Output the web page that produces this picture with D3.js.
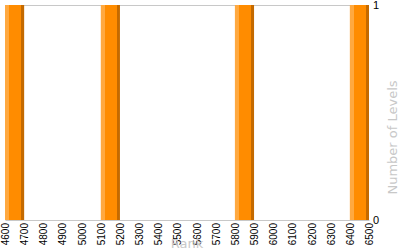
<!DOCTYPE html>
<meta charset="utf-8">
<script src="https://d3js.org/d3.v7.min.js"></script>
<style>
  body { margin: 0; background: #fff; }
</style>
<div id="chart"></div>
<script>

// histogram bins (rank, 100 wide) and how many levels fall in each
var binStarts = [4600, 5100, 5800, 6400];
var levelCounts = [1, 1, 1, 1];
var binWidth = 100;
var rankTicks = d3.range(4600, 6501, 100);
var countTicks = [0, 1];

var margin = {top: 5, right: 31, bottom: 30, left: 5},
    width = 400 - margin.left - margin.right,
    height = 250 - margin.top - margin.bottom;

var svg = d3.select("#chart")
  .append("svg")
    .attr("width", 400)
    .attr("height", 250)
    .style("font-family", "'DejaVu Sans', sans-serif");

var defs = svg.append("defs");
var grad = defs.append("linearGradient").attr("id", "barGrad");
grad.append("stop").attr("offset", "0%").attr("stop-color", "#ffa940");
grad.append("stop").attr("offset", "21%").attr("stop-color", "#ffa940");
grad.append("stop").attr("offset", "21%").attr("stop-color", "#ff8c00");
grad.append("stop").attr("offset", "84%").attr("stop-color", "#ff8c00");
grad.append("stop").attr("offset", "84%").attr("stop-color", "#c46a00");
grad.append("stop").attr("offset", "100%").attr("stop-color", "#c46a00");

var g = svg.append("g")
  .attr("transform", "translate(" + margin.left + "," + margin.top + ")");

var x = d3.scaleLinear()
  .domain([4600, 6500])
  .range([0, width]);

var y = d3.scaleLinear()
  .domain([0, 1])
  .range([height, 0]);

// frame lines
g.append("line")
  .attr("x1", 0).attr("x2", width)
  .attr("y1", 0.5).attr("y2", 0.5)
  .attr("stroke", "#c8c8c8");
g.append("line")
  .attr("x1", 0.5).attr("x2", 0.5)
  .attr("y1", 0).attr("y2", height)
  .attr("stroke", "#e0e0e0");

// bars
g.selectAll("rect.bar")
  .data(binStarts.map(function(d, i) { return [d, levelCounts[i]]; }))
  .enter()
  .append("rect")
    .attr("class", "bar")
    .attr("x", function(d) { return x(d[0]); })
    .attr("width", function(d) { return x(d[0] + binWidth) - x(d[0]); })
    .attr("y", function(d) { return y(d[1]); })
    .attr("height", function(d) { return height - y(d[1]); })
    .attr("fill", "url(#barGrad)");

// X axis
var xAxis = g.append("g")
  .attr("transform", "translate(0," + height + ")")
  .call(d3.axisBottom(x).tickValues(rankTicks).tickFormat(d3.format("d")).tickSize(0).tickPadding(3));
xAxis.select(".domain").attr("stroke", "#c8c8c8");
xAxis.selectAll("text")
  .attr("font-size", "10px")
  .attr("fill", "#000")
  .attr("transform", "rotate(-90)")
  .attr("x", -3)
  .attr("y", 0)
  .attr("dy", "0.35em")
  .style("text-anchor", "end");

// Y axis on the right
var yAxis = g.append("g")
  .attr("transform", "translate(" + width + ",0)")
  .call(d3.axisRight(y).tickValues(countTicks).tickFormat(d3.format("d")).tickSize(0).tickPadding(4));
yAxis.select(".domain").remove();
yAxis.selectAll("text")
  .attr("font-size", "11px")
  .attr("fill", "#000");

// axis titles
svg.append("text")
  .attr("x", 187)
  .attr("y", 248)
  .attr("text-anchor", "middle")
  .attr("font-size", "13px")
  .attr("fill", "#c8c8c8")
  .text("Rank");

svg.append("text")
  .attr("transform", "translate(392," + (margin.top + height / 2 + 25) + ") rotate(-90)")
  .attr("text-anchor", "middle")
  .attr("dy", "0.35em")
  .attr("font-size", "13px")
  .attr("fill", "#c8c8c8")
  .text("Number of Levels");

</script>
